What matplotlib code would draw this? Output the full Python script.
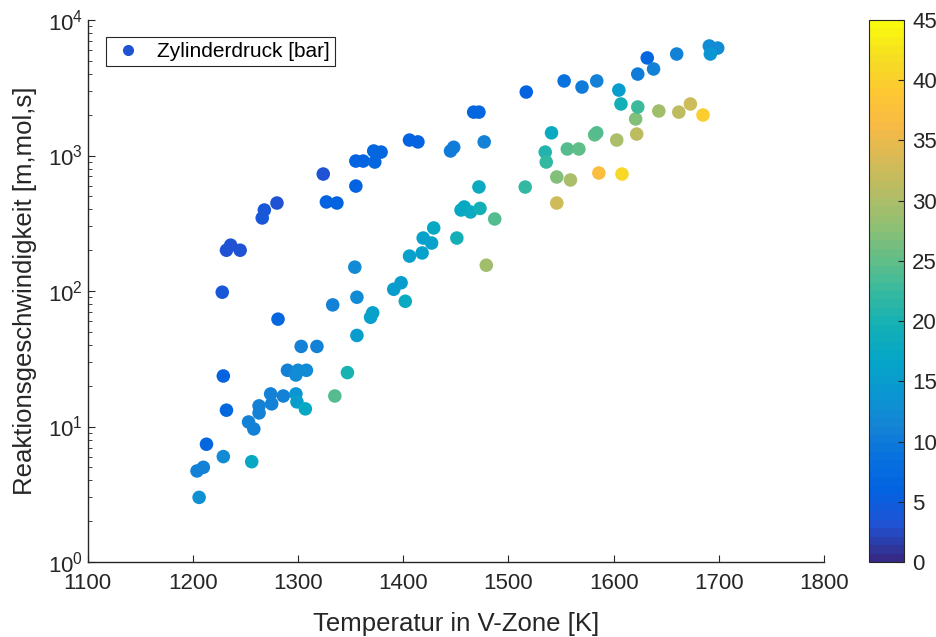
import matplotlib
matplotlib.use("Agg")
import matplotlib.pyplot as plt
import numpy as np
from matplotlib.colors import LinearSegmentedColormap, Normalize
from matplotlib.lines import Line2D
from matplotlib.ticker import LogLocator, NullFormatter

plt.rcParams["font.family"] = ["Liberation Sans", "DejaVu Sans"]
plt.rcParams["mathtext.fontset"] = "custom"
plt.rcParams["mathtext.rm"] = "Liberation Sans"
plt.rcParams["mathtext.it"] = "Liberation Sans"

# Temperatur in V-Zone [K]
temperatur = [
    1236, 1232, 1245, 1228, 1266, 1268, 1280, 1324, 1327, 1337,
    1355, 1355, 1362, 1373, 1372, 1379, 1406, 1414, 1445, 1448,
    1467, 1472, 1477, 1517, 1553, 1570, 1584, 1605, 1623, 1632,
    1638, 1660, 1691, 1699, 1692,
    1206, 1204, 1210, 1213, 1229, 1229, 1232, 1253, 1258, 1256,
    1263, 1263, 1275, 1274, 1281, 1286, 1290, 1298, 1300, 1308,
    1298, 1299, 1307, 1303, 1318, 1333, 1335, 1347, 1354, 1356,
    1356, 1369, 1371, 1391, 1398, 1402, 1406, 1418, 1419, 1427,
    1429, 1451, 1455, 1458, 1464, 1473, 1472, 1479, 1487, 1516,
    1535, 1536, 1541, 1546, 1546, 1556, 1559, 1567, 1582, 1584,
    1586, 1603, 1607, 1608, 1621, 1622, 1623, 1643, 1662, 1673,
    1685,
]

# Reaktionsgeschwindigkeit [m,mol,s]
rate = [
    218, 200, 200, 98, 346, 396, 446, 730, 454, 446,
    595, 910, 910, 895, 1080, 1060, 1300, 1260, 1080, 1150,
    2090, 2090, 1260, 2940, 3550, 3200, 3550, 3040, 3990, 5250,
    4350, 5610, 6430, 6210, 5610,
    3.0, 4.7, 5.0, 7.4, 6.0, 23.6, 13.2, 10.8, 9.6, 5.5,
    14.2, 12.6, 14.7, 17.4, 62, 16.8, 26, 24, 26, 26,
    17.4, 15.2, 13.5, 39, 39, 79, 16.8, 25, 150, 90,
    47, 64, 69, 103, 115, 84, 181, 191, 246, 226,
    292, 246, 396, 417, 383, 407, 586, 155, 340, 585,
    1060, 895, 1470, 694, 446, 1117, 660, 1117, 1420, 1470,
    743, 1300, 2400, 730, 1860, 1440, 2280, 2130, 2090, 2400,
    1990,
]

# Zylinderdruck [bar]
druck = [
    3, 3, 3, 4, 4, 4, 3.5, 3, 6, 6,
    6, 6, 6, 7, 7, 7, 6, 6, 10, 10,
    7, 7, 11, 6, 9, 10, 11, 15, 10, 7,
    11, 11, 12, 12, 14,
    13, 11, 11, 7, 12, 6, 7, 11, 11, 17,
    11, 11, 11, 11, 7, 11, 11, 12, 12, 12,
    14, 15, 17, 11, 11, 11, 24, 20, 12, 12,
    15, 16, 16, 15, 15, 18, 16, 16, 16, 16,
    17, 19, 17, 17, 18, 19, 18, 29, 24, 22,
    21, 22, 18, 27, 33, 24, 30, 25, 25, 24,
    37, 30, 19, 41, 27, 31, 23, 29, 31, 33,
    40,
]

# parula-like colormap (MATLAB default)
parula_colors = [
    (0.2081, 0.1663, 0.5292), (0.1253, 0.3242, 0.8303), (0.0117, 0.3875, 0.8820),
    (0.0329, 0.4430, 0.8720), (0.0793, 0.5200, 0.8312), (0.0343, 0.5966, 0.8199),
    (0.0228, 0.6535, 0.7768), (0.0843, 0.6928, 0.7062), (0.2178, 0.7250, 0.6193),
    (0.3953, 0.7459, 0.5244), (0.5709, 0.7485, 0.4494), (0.7184, 0.7411, 0.3905),
    (0.8507, 0.7299, 0.3360), (0.9739, 0.7314, 0.2666), (0.9955, 0.7861, 0.1967),
    (0.9626, 0.8705, 0.1309), (0.9763, 0.9831, 0.0538),
]
parula = LinearSegmentedColormap.from_list("parula", parula_colors, N=64)
norm = Normalize(vmin=0, vmax=45)

axcol = (0.15, 0.15, 0.15)
fig = plt.figure(figsize=(9.36, 6.37), dpi=100)
ax = fig.add_axes([0.0936, 0.1177, 0.7867, 0.8509])
cax = fig.add_axes([0.9284, 0.1177, 0.0374, 0.8509])

sc = ax.scatter(temperatur, rate, c=druck, cmap=parula, norm=norm,
                s=95, edgecolors="none", zorder=3)

ax.set_yscale("log")
ax.set_xlim(1100, 1800)
ax.set_ylim(1, 1e4)
ax.set_xticks(np.arange(1100, 1801, 100))
ax.yaxis.set_major_locator(LogLocator(base=10, numticks=10))
ax.yaxis.set_minor_locator(LogLocator(base=10, subs=np.arange(2, 10), numticks=20))
ax.yaxis.set_minor_formatter(NullFormatter())

for s in ("top", "right"):
    ax.spines[s].set_visible(False)
for s in ("left", "bottom"):
    ax.spines[s].set_color(axcol)
    ax.spines[s].set_linewidth(1.0)

ax.tick_params(which="both", direction="in", colors=axcol, labelsize=16,
               labelcolor=axcol)
ax.tick_params(which="major", length=5, width=0.8)
ax.tick_params(which="minor", length=3, width=0.6)
ax.tick_params(axis="x", pad=8)

ax.set_xlabel("Temperatur in V-Zone [K]", fontsize=18.5, color=axcol, labelpad=13)
ax.set_ylabel("Reaktionsgeschwindigkeit [m,mol,s]", fontsize=18.5, color=axcol,
              labelpad=8)

handle = Line2D([], [], ls="", marker="o", markersize=8,
                color=parula(norm(3)), markeredgecolor="none")
leg = ax.legend([handle], ["Zylinderdruck [bar]"], loc="upper left",
                bbox_to_anchor=(0.025, 0.9686), borderaxespad=0, fontsize=15,
                fancybox=False, framealpha=1, edgecolor=axcol,
                handletextpad=0.6, borderpad=0.25, handlelength=1.6)
leg.get_frame().set_linewidth(0.8)

cb = fig.colorbar(sc, cax=cax)
cb.set_ticks(np.arange(0, 46, 5))
cb.outline.set_edgecolor(axcol)
cb.outline.set_linewidth(0.8)
cax.tick_params(direction="in", length=4, colors=axcol, labelsize=16,
                labelcolor=axcol, pad=6)

fig.savefig("out.png", dpi=100)
